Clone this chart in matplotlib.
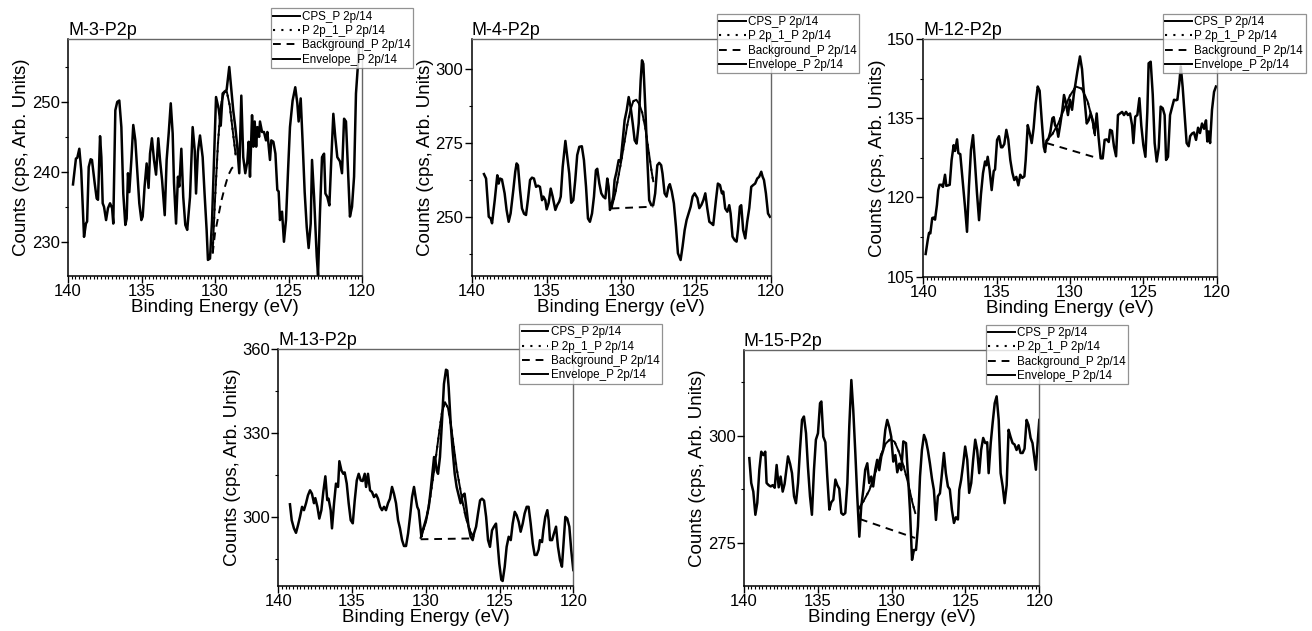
import matplotlib
matplotlib.use("Agg")
import matplotlib.pyplot as plt
from matplotlib.ticker import MultipleLocator, AutoMinorLocator
from matplotlib.lines import Line2D

plt.rcParams['font.family'] = ['Liberation Sans', 'DejaVu Sans']

# ---------------- M-3-P2p ----------------
m3_x = [139.66, 139.46, 139.37, 139.23, 139.10, 138.91, 138.78, 138.70, 138.59, 138.46,
        138.37, 138.18, 138.05, 137.96, 137.82, 137.73, 137.64, 137.55, 137.41, 137.28,
        137.14, 137.00, 136.92, 136.78, 136.65, 136.51, 136.37, 136.24, 136.10, 136.01,
        135.92, 135.83, 135.69, 135.56, 135.42, 135.28, 135.15, 135.01, 134.92, 134.79,
        134.65, 134.52, 134.42, 134.29, 134.15, 134.01, 133.86, 133.74, 133.60, 133.42,
        133.29, 133.15, 133.01, 132.88, 132.79, 132.65, 132.52, 132.43, 132.29, 132.16,
        132.02, 131.89, 131.70, 131.52, 131.38, 131.29, 131.16, 131.02, 130.84, 130.71,
        130.57, 130.48, 130.34, 130.20, 129.93, 129.75, 129.61, 129.48, 129.34, 129.21,
        129.03, 128.90, 128.76, 128.62, 128.50, 128.35, 128.21, 128.08, 127.94, 127.80,
        127.71, 127.62, 127.48, 127.39, 127.30, 127.20, 127.12, 127.00, 126.94, 126.80,
        126.67, 126.53, 126.44, 126.26, 126.17, 126.03, 125.89, 125.76, 125.67, 125.58,
        125.44, 125.31, 125.17, 125.03, 124.90, 124.72, 124.54, 124.40, 124.31, 124.17,
        124.04, 123.90, 123.76, 123.63, 123.49, 123.40, 123.26, 123.08, 122.99, 122.86,
        122.72, 122.58, 122.49, 122.36, 122.22, 122.09, 121.95, 121.82, 121.68, 121.50,
        121.36, 121.22, 121.09, 120.95, 120.82, 120.68, 120.54, 120.41, 120.27, 120.20]
m3_y = [238.2, 241.9, 242.0, 243.3, 240.2, 230.7, 232.6, 232.9, 240.7, 241.8,
        241.7, 238.3, 236.2, 236.0, 245.1, 242.1, 235.5, 235.0, 233.1, 234.8,
        235.5, 234.8, 232.6, 248.8, 250.0, 250.2, 246.4, 236.9, 232.4, 233.3,
        239.8, 237.1, 241.7, 246.7, 244.5, 239.8, 235.5, 233.1, 233.6, 237.9,
        241.2, 237.7, 242.6, 244.8, 241.7, 239.6, 244.8, 241.7, 238.8, 233.8,
        241.7, 245.5, 249.8, 245.5, 238.4, 232.6, 239.3, 237.9, 243.3, 236.4,
        232.4, 231.7, 236.4, 246.4, 243.1, 236.9, 242.9, 245.2, 242.1, 236.9,
        231.7, 227.4, 227.6, 233.1, 250.7, 249.0, 246.6, 251.2, 251.5, 251.7,
        255.0, 252.0, 248.8, 246.4, 244.0, 239.8, 250.9, 242.1, 239.8, 241.5,
        244.3, 239.3, 248.1, 243.6, 247.2, 243.6, 246.4, 245.0, 247.2, 245.7,
        245.7, 244.5, 245.7, 241.7, 244.5, 244.3, 242.6, 237.4, 237.2, 233.1,
        234.3, 230.0, 233.1, 240.2, 246.4, 250.2, 252.1, 249.8, 247.2, 250.5,
        244.3, 237.1, 232.1, 229.1, 232.6, 241.7, 236.4, 227.9, 225.2, 234.1,
        242.1, 242.6, 236.9, 236.4, 235.2, 241.7, 248.3, 245.0, 242.1, 241.5,
        239.8, 247.6, 247.2, 240.0, 233.6, 235.0, 239.3, 251.2, 255.5, 258.0]
m3_bg_x = [130.16, 130.00, 129.78, 129.55, 129.32, 129.10, 128.86, 128.60]
m3_bg_y = [228.3, 231.2, 233.6, 236.0, 237.9, 239.5, 240.5, 241.0]
m3_env_x = [130.16, 130.00, 129.80, 129.60, 129.40, 129.20, 129.00, 128.80, 128.60]
m3_env_y = [228.5, 236.0, 244.0, 249.5, 251.3, 251.5, 249.5, 246.0, 242.5]

# ---------------- M-4-P2p ----------------
m4_x = [139.18, 139.04, 138.86, 138.73, 138.64, 138.46, 138.29, 138.20, 138.11, 137.98,
        137.80, 137.67, 137.53, 137.40, 137.22, 137.09, 137.00, 136.91, 136.77, 136.64,
        136.50, 136.37, 136.24, 136.10, 135.97, 135.84, 135.70, 135.57, 135.44, 135.30,
        135.21, 135.08, 134.99, 134.86, 134.72, 134.59, 134.41, 134.28, 134.15, 134.05,
        133.92, 133.74, 133.61, 133.48, 133.35, 133.21, 133.08, 132.95, 132.81, 132.64,
        132.50, 132.36, 132.23, 132.10, 131.96, 131.83, 131.70, 131.61, 131.47, 131.34,
        131.21, 131.07, 130.94, 130.85, 130.76, 130.63, 130.54, 130.45, 130.32, 130.18,
        130.05, 129.91, 129.78, 129.64, 129.51, 129.38, 129.24, 129.11, 128.98, 128.84,
        128.71, 128.62, 128.53, 128.40, 128.27, 128.14, 128.00, 127.87, 127.74, 127.60,
        127.47, 127.34, 127.25, 127.11, 126.98, 126.85, 126.76, 126.63, 126.49, 126.35,
        126.22, 126.04, 125.91, 125.77, 125.64, 125.51, 125.37, 125.24, 125.10, 124.92,
        124.79, 124.65, 124.52, 124.39, 124.26, 124.12, 123.99, 123.86, 123.68, 123.55,
        123.41, 123.28, 123.19, 123.06, 122.92, 122.79, 122.70, 122.57, 122.43, 122.30,
        122.21, 122.08, 121.99, 121.86, 121.72, 121.59, 121.45, 121.32, 121.19, 121.06,
        120.92, 120.79, 120.65, 120.56, 120.47, 120.34, 120.20, 120.07]
m4_y = [264.4, 262.9, 250.0, 249.4, 247.8, 255.6, 264.0, 261.2, 262.9, 262.6,
        257.9, 252.3, 248.3, 251.1, 259.0, 265.2, 268.0, 267.4, 259.0, 252.8,
        251.0, 250.6, 255.8, 262.4, 263.2, 262.9, 260.1, 260.5, 260.1, 255.6,
        256.8, 255.6, 252.5, 254.6, 259.5, 256.8, 252.3, 254.0, 255.1, 256.8,
        266.8, 275.6, 270.1, 264.5, 254.7, 255.6, 262.4, 270.8, 273.6, 273.8,
        269.1, 260.1, 249.4, 248.3, 251.1, 256.8, 265.7, 266.2, 261.2, 257.9,
        256.8, 256.2, 262.9, 260.1, 252.3, 254.6, 256.8, 262.4, 265.2, 269.1,
        268.5, 275.8, 282.6, 286.0, 290.4, 287.0, 281.5, 275.8, 274.7, 281.5,
        296.0, 302.8, 301.6, 287.0, 270.2, 255.6, 253.9, 253.9, 257.9, 267.4,
        268.2, 267.4, 264.6, 257.9, 256.8, 260.1, 261.0, 258.5, 254.5, 246.6,
        237.7, 235.4, 239.9, 245.5, 248.9, 251.1, 253.4, 256.8, 257.9, 256.3,
        252.9, 254.0, 255.6, 257.9, 252.9, 248.3, 247.8, 247.2, 255.6, 261.2,
        260.7, 257.9, 258.5, 252.8, 251.7, 253.9, 251.1, 243.3, 242.1, 241.6,
        245.5, 253.4, 253.9, 245.5, 242.7, 248.3, 253.0, 260.1, 260.7, 261.2,
        262.9, 263.5, 265.2, 263.5, 262.4, 257.9, 251.1, 250.0]
m4_bg_x = [130.65, 127.87]
m4_bg_y = [252.8, 253.4]
m4_env_x = [130.65, 130.40, 130.20, 130.00, 129.80, 129.60, 129.40, 129.20, 129.00, 128.80,
            128.60, 128.40, 128.20, 128.00, 127.87]
m4_env_y = [253.0, 258.0, 263.5, 269.0, 275.0, 281.0, 286.0, 289.0, 289.5, 288.0,
            285.0, 280.0, 273.0, 266.0, 262.0]

# ---------------- M-12-P2p ----------------
m12_x = [139.84, 139.70, 139.61, 139.52, 139.39, 139.30, 139.20, 139.07, 138.98, 138.89,
         138.75, 138.66, 138.52, 138.43, 138.30, 138.20, 138.07, 137.93, 137.84, 137.70,
         137.61, 137.48, 137.34, 137.16, 137.02, 136.89, 136.75, 136.61, 136.48, 136.34,
         136.20, 136.07, 135.93, 135.79, 135.70, 135.61, 135.48, 135.34, 135.20, 135.11,
         134.97, 134.84, 134.70, 134.61, 134.48, 134.34, 134.21, 134.07, 133.93, 133.80,
         133.66, 133.52, 133.39, 133.25, 133.11, 133.02, 132.88, 132.75, 132.61, 132.48,
         132.34, 132.20, 132.07, 131.93, 131.79, 131.70, 131.61, 131.48, 131.34, 131.20,
         131.11, 131.02, 130.89, 130.80, 130.66, 130.52, 130.41, 130.27, 130.14, 130.00,
         129.86, 129.73, 129.59, 129.50, 129.32, 129.18, 129.09, 128.95, 128.86, 128.73,
         128.59, 128.45, 128.32, 128.18, 128.05, 127.91, 127.77, 127.64, 127.50, 127.36,
         127.27, 127.14, 127.00, 126.86, 126.73, 126.59, 126.45, 126.32, 126.18, 126.05,
         125.91, 125.77, 125.68, 125.55, 125.41, 125.27, 125.14, 125.00, 124.86, 124.73,
         124.64, 124.50, 124.36, 124.23, 124.09, 123.95, 123.82, 123.68, 123.55, 123.45,
         123.32, 123.18, 123.05, 122.91, 122.77, 122.68, 122.55, 122.45, 122.32, 122.18,
         122.05, 121.91, 121.81, 121.68, 121.55, 121.41, 121.27, 121.14, 121.00, 120.86,
         120.73, 120.64, 120.55, 120.45, 120.32, 120.18, 120.05]
m12_y = [109.3, 111.9, 113.3, 113.2, 116.1, 116.2, 115.8, 118.6, 121.4, 122.4,
         122.4, 122.0, 124.3, 122.2, 122.3, 122.4, 127.1, 129.9, 128.8, 131.0,
         128.4, 128.2, 123.9, 118.3, 113.5, 122.0, 129.0, 131.8, 126.7, 120.8,
         115.7, 120.6, 124.6, 126.8, 126.1, 127.7, 125.2, 121.4, 125.0, 125.3,
         130.9, 131.6, 129.5, 129.5, 130.1, 132.8, 131.0, 127.1, 124.7, 123.3,
         123.9, 122.3, 124.3, 123.7, 124.0, 127.1, 133.7, 132.2, 130.3, 133.1,
         137.8, 141.0, 140.2, 134.7, 129.6, 128.6, 130.6, 131.0, 132.4, 135.0,
         135.2, 133.7, 133.0, 131.5, 133.9, 136.6, 139.4, 137.8, 135.6, 138.5,
         136.6, 139.7, 142.2, 143.8, 146.7, 144.3, 141.0, 136.6, 134.0, 134.6,
         135.9, 134.6, 132.1, 135.9, 131.3, 127.4, 127.4, 130.9, 131.0, 130.5,
         132.8, 132.6, 129.6, 127.8, 135.6, 135.9, 136.2, 135.6, 136.2, 135.6,
         135.9, 133.7, 130.3, 135.3, 135.6, 138.8, 133.6, 129.9, 127.7, 136.2,
         145.4, 145.7, 139.5, 130.3, 126.8, 129.4, 137.2, 136.9, 135.6, 127.1,
         127.7, 135.6, 137.0, 138.5, 138.4, 138.5, 141.6, 144.8, 140.9, 135.3,
         130.3, 129.7, 131.6, 132.1, 132.3, 130.9, 133.2, 132.2, 134.0, 133.0,
         134.6, 130.6, 132.5, 130.3, 136.6, 140.0, 141.0]
m12_bg_x = [131.60, 128.30]
m12_bg_y = [130.3, 127.6]
m12_env_x = [131.60, 131.20, 130.80, 130.40, 130.00, 129.60, 129.20, 128.80, 128.50, 128.30]
m12_env_y = [130.8, 132.0, 134.0, 136.8, 139.3, 141.0, 140.6, 138.2, 135.0, 131.8]

# ---------------- M-13-P2p ----------------
m13_x = [139.21, 139.09, 138.94, 138.80, 138.67, 138.53, 138.39, 138.26, 138.12, 137.99,
         137.85, 137.72, 137.58, 137.49, 137.35, 137.22, 137.08, 136.95, 136.81, 136.68,
         136.59, 136.45, 136.36, 136.22, 136.09, 135.95, 135.86, 135.72, 135.59, 135.50,
         135.36, 135.23, 135.09, 134.95, 134.82, 134.68, 134.55, 134.41, 134.28, 134.14,
         134.05, 133.92, 133.78, 133.65, 133.51, 133.37, 133.24, 133.10, 132.97, 132.83,
         132.70, 132.56, 132.43, 132.29, 132.16, 132.02, 131.88, 131.75, 131.61, 131.48,
         131.34, 131.20, 131.07, 130.93, 130.80, 130.66, 130.58, 130.48, 130.39, 130.30,
         130.21, 130.07, 129.94, 129.80, 129.67, 129.53, 129.44, 129.35, 129.26, 129.17,
         129.04, 128.90, 128.77, 128.63, 128.54, 128.45, 128.31, 128.18, 128.04, 127.91,
         127.77, 127.64, 127.50, 127.37, 127.23, 127.10, 126.96, 126.82, 126.73, 126.59,
         126.46, 126.32, 126.19, 126.05, 125.91, 125.78, 125.65, 125.51, 125.38, 125.24,
         125.15, 125.02, 124.88, 124.79, 124.65, 124.52, 124.38, 124.24, 124.11, 123.97,
         123.84, 123.70, 123.57, 123.43, 123.30, 123.16, 123.03, 122.89, 122.75, 122.62,
         122.48, 122.35, 122.26, 122.12, 122.03, 121.90, 121.76, 121.67, 121.58, 121.44,
         121.31, 121.17, 121.04, 120.90, 120.77, 120.63, 120.54, 120.41, 120.27, 120.14,
         120.00]
m13_y = [304.5, 298.8, 295.9, 294.3, 296.9, 300.0, 303.6, 302.4, 304.9, 307.7,
         309.5, 308.3, 304.9, 306.7, 303.6, 299.4, 302.4, 308.9, 314.5, 306.0,
         306.5, 302.4, 295.9, 304.9, 311.9, 310.7, 319.9, 316.6, 315.4, 315.9,
         311.9, 304.9, 298.8, 297.7, 305.8, 313.0, 315.4, 313.0, 312.8, 315.4,
         310.7, 315.4, 309.5, 308.9, 307.1, 308.0, 306.5, 303.6, 302.4, 303.6,
         302.4, 304.9, 306.5, 310.7, 308.3, 304.9, 298.8, 295.9, 291.7, 289.6,
         289.6, 294.1, 300.0, 307.1, 310.7, 306.0, 303.6, 302.4, 297.6, 292.9,
         295.2, 297.6, 300.0, 303.6, 309.5, 316.6, 321.4, 320.2, 316.6, 315.4,
         321.4, 334.4, 347.5, 352.6, 352.3, 346.3, 333.2, 323.7, 315.4, 310.7,
         307.7, 304.9, 307.7, 308.3, 302.4, 296.5, 292.9, 291.7, 294.1, 296.5,
         301.2, 305.9, 306.5, 305.8, 300.0, 291.7, 289.3, 295.2, 296.5, 297.6,
         291.7, 283.4, 277.5, 277.1, 282.2, 289.3, 292.9, 291.7, 297.6, 301.8,
         300.6, 298.2, 294.7, 297.6, 301.2, 303.6, 303.6, 297.6, 290.5, 286.4,
         286.4, 288.3, 291.7, 291.0, 295.3, 300.0, 302.4, 298.8, 291.7, 291.7,
         294.1, 296.5, 289.3, 284.6, 282.2, 292.9, 300.0, 299.4, 296.5, 288.1,
         281.0]
m13_bg_x = [130.35, 126.78]
m13_bg_y = [292.0, 292.3]
m13_env_x = [130.35, 130.00, 129.70, 129.40, 129.10, 128.90, 128.70, 128.50, 128.30, 128.10,
             127.90, 127.60, 127.30, 127.00, 126.78]
m13_env_y = [292.5, 298.0, 307.0, 318.0, 330.0, 337.5, 341.0, 339.0, 333.0, 325.0,
             317.0, 308.0, 300.0, 295.0, 293.0]

# ---------------- M-15-P2p ----------------
m15_x = [139.64, 139.51, 139.37, 139.23, 139.10, 138.96, 138.83, 138.69, 138.56, 138.47,
         138.33, 138.19, 138.06, 137.92, 137.79, 137.65, 137.52, 137.38, 137.25, 137.11,
         137.02, 136.88, 136.75, 136.61, 136.48, 136.34, 136.21, 136.07, 135.94, 135.80,
         135.67, 135.53, 135.40, 135.26, 135.13, 134.99, 134.85, 134.76, 134.63, 134.49,
         134.36, 134.22, 134.09, 133.95, 133.81, 133.68, 133.55, 133.41, 133.28, 133.14,
         133.00, 132.87, 132.73, 132.60, 132.46, 132.33, 132.19, 132.06, 131.92, 131.79,
         131.65, 131.52, 131.38, 131.25, 131.11, 130.98, 130.84, 130.70, 130.57, 130.43,
         130.30, 130.16, 130.03, 129.89, 129.75, 129.62, 129.48, 129.35, 129.21, 129.03,
         128.89, 128.76, 128.62, 128.49, 128.35, 128.22, 128.08, 127.95, 127.81, 127.68,
         127.54, 127.41, 127.27, 127.14, 127.00, 126.87, 126.73, 126.60, 126.46, 126.33,
         126.19, 126.06, 125.92, 125.78, 125.65, 125.51, 125.42, 125.29, 125.15, 125.02,
         124.88, 124.75, 124.61, 124.48, 124.34, 124.21, 124.07, 123.94, 123.80, 123.66,
         123.53, 123.43, 123.29, 123.16, 123.02, 122.89, 122.75, 122.62, 122.48, 122.35,
         122.21, 122.08, 121.95, 121.81, 121.68, 121.54, 121.40, 121.27, 121.13, 121.00,
         120.86, 120.73, 120.59, 120.46, 120.32, 120.23, 120.14, 120.00]
m15_y = [294.8, 289.0, 287.0, 281.6, 284.4, 292.1, 296.3, 295.5, 296.3, 289.0,
         288.5, 288.2, 288.5, 287.9, 293.2, 288.0, 290.5, 287.0, 288.8, 292.8,
         295.2, 293.5, 291.3, 285.9, 284.3, 289.0, 296.7, 303.7, 304.5, 300.6,
         292.8, 285.9, 281.6, 292.1, 299.1, 300.6, 307.6, 308.0, 299.8, 298.5,
         290.5, 282.8, 284.5, 285.1, 289.8, 288.5, 287.7, 282.0, 281.6, 282.0,
         289.0, 302.2, 313.0, 306.0, 296.0, 285.9, 276.5, 283.5, 287.4, 292.1,
         293.6, 289.0, 290.5, 288.2, 292.1, 294.4, 292.0, 295.2, 296.7, 301.4,
         303.7, 302.0, 299.8, 294.0, 295.5, 291.5, 293.5, 292.0, 298.7, 298.3,
         290.5, 282.8, 271.1, 273.4, 273.4, 278.9, 290.5, 296.7, 300.2, 299.0,
         296.5, 293.6, 290.0, 287.4, 280.4, 285.9, 286.6, 291.0, 296.0, 291.3,
         288.2, 287.5, 282.8, 279.7, 281.0, 280.5, 287.4, 289.8, 293.6, 297.5,
         294.4, 286.7, 289.0, 294.4, 299.1, 296.7, 291.3, 296.7, 299.5, 298.3,
         298.5, 291.3, 298.3, 303.0, 307.6, 309.2, 303.7, 291.3, 288.2, 284.3,
         288.5, 301.4, 299.8, 298.3, 298.0, 296.7, 297.8, 296.0, 296.0, 297.0,
         303.7, 302.5, 299.5, 298.3, 294.4, 292.1, 297.0, 303.7]
m15_bg_x = [132.15, 128.42]
m15_bg_y = [280.6, 276.2]
m15_env_x = [132.26, 131.90, 131.50, 131.10, 130.70, 130.40, 130.10, 129.80, 129.50, 129.20,
             128.90, 128.60, 128.40]
m15_env_y = [282.9, 284.8, 287.4, 291.5, 295.8, 298.2, 299.2, 298.6, 296.2, 293.0,
             289.2, 284.5, 282.0]

titles = ["M-3-P2p", "M-4-P2p", "M-12-P2p", "M-13-P2p", "M-15-P2p"]
legend_labels = ["CPS_P 2p/14", "P 2p_1_P 2p/14", "Background_P 2p/14", "Envelope_P 2p/14"]

W, H = 1312, 631
fig = plt.figure(figsize=(W / 100, H / 100), dpi=100)

# layout in pixels: (left, top, right, bottom), legend anchor (x, y), ylim, y major step
layout = [
    ((68, 39, 362, 276), (270.7, 8.3), (225.1, 259), 10),
    ((471.7, 39, 771, 276), (716.7, 13.7), (230, 310), 25),
    ((923.3, 39, 1216.7, 276.7), (1163, 13.7), (105, 150), 15),
    ((278.3, 349, 573.3, 586), (519.3, 324), (275.3, 360), 30),
    ((744, 350, 1039.3, 586), (985.7, 324.7), (265, 320), 25),
]
series = [
    (m3_x, m3_y, m3_bg_x, m3_bg_y, m3_env_x, m3_env_y),
    (m4_x, m4_y, m4_bg_x, m4_bg_y, m4_env_x, m4_env_y),
    (m12_x, m12_y, m12_bg_x, m12_bg_y, m12_env_x, m12_env_y),
    (m13_x, m13_y, m13_bg_x, m13_bg_y, m13_env_x, m13_env_y),
    (m15_x, m15_y, m15_bg_x, m15_bg_y, m15_env_x, m15_env_y),
]

dash = (0, (4, 3))
dot = (0, (1, 3))

for title, (box, leg, ylim, ystep), (cx, cy, bx, by, ex, ey) in zip(titles, layout, series):
    l, t, r, b = box
    ax = fig.add_axes([l / W, 1 - b / H, (r - l) / W, (b - t) / H])
    ax.plot(cx, cy, color="black", lw=1.8, solid_joinstyle="round")
    ax.plot(ex, ey, color="black", lw=1.5, linestyle=dot)
    ax.plot(bx, by, color="black", lw=1.4, linestyle=dash)
    ax.plot(ex, ey, color="black", lw=1.4)

    ax.set_xlim(140, 120)
    ax.set_ylim(*ylim)
    ax.xaxis.set_major_locator(MultipleLocator(5))
    ax.xaxis.set_minor_locator(MultipleLocator(0.25))
    ax.yaxis.set_major_locator(MultipleLocator(ystep))
    ax.yaxis.set_minor_locator(AutoMinorLocator(2))
    ax.tick_params(axis="both", which="major", direction="out", length=5, width=1,
                   labelsize=12, pad=1)
    ax.tick_params(axis="both", which="minor", direction="out", length=2, width=0.8)
    for s in ["left", "bottom"]:
        ax.spines[s].set_linewidth(1.1)
        ax.spines[s].set_color("black")
    for s in ["top", "right"]:
        ax.spines[s].set_linewidth(1.0)
        ax.spines[s].set_color("#666666")

    ax.set_xlabel("Binding Energy (eV)", fontsize=13.5, labelpad=0)
    ax.set_ylabel("Counts (cps, Arb. Units)", fontsize=13.5, labelpad=1)
    ax.set_title(title, loc="left", fontsize=13, pad=3)

    handles = [
        Line2D([], [], color="black", lw=1.4),
        Line2D([], [], color="black", lw=1.5, linestyle=dot),
        Line2D([], [], color="black", lw=1.4, linestyle=dash),
        Line2D([], [], color="black", lw=1.4),
    ]
    lg = ax.legend(handles, legend_labels, loc="upper left",
                   bbox_to_anchor=(leg[0] / W, 1 - leg[1] / H),
                   bbox_transform=fig.transFigure, fontsize=8.4, frameon=True,
                   fancybox=False, borderpad=0.2, labelspacing=0.2,
                   handlelength=2.3, handletextpad=0.2, borderaxespad=0)
    lg.get_frame().set_edgecolor("#777777")
    lg.get_frame().set_linewidth(0.9)

fig.savefig("out.png", dpi=100)
